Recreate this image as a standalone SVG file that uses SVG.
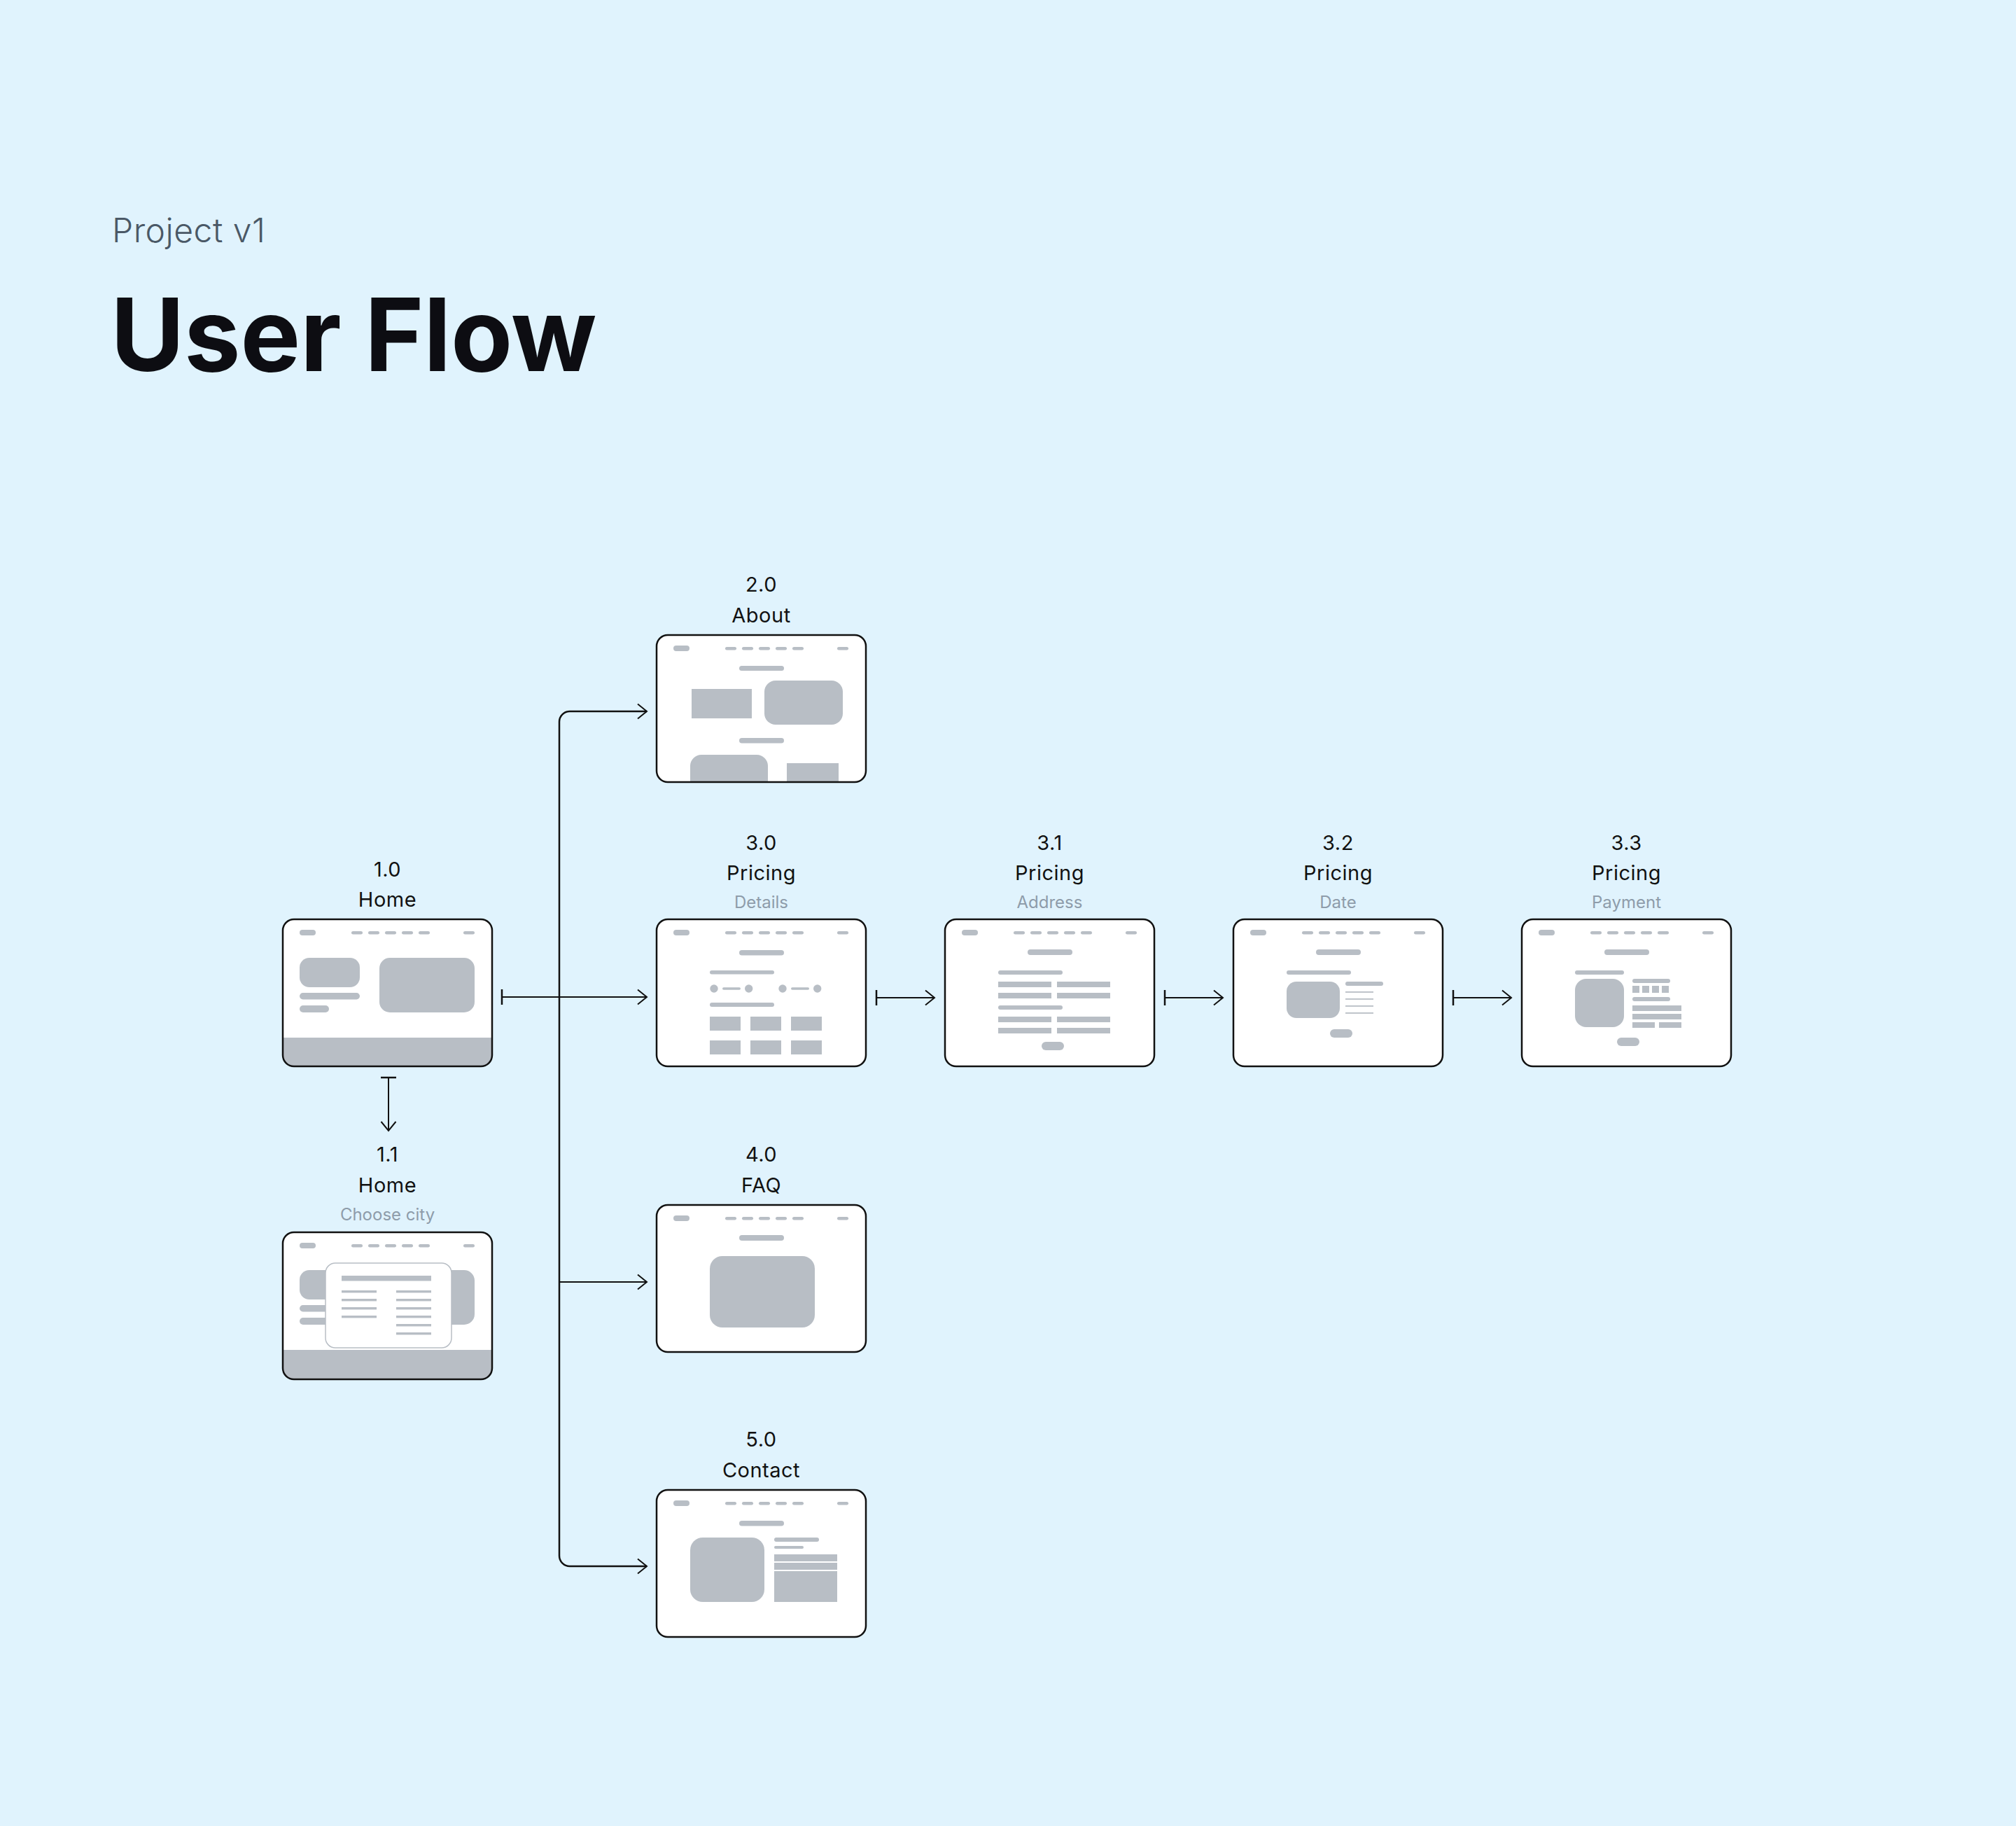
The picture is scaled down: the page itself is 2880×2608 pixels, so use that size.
<svg xmlns="http://www.w3.org/2000/svg" xmlns:xlink="http://www.w3.org/1999/xlink" width="2880" height="2608" viewBox="0 0 2880 2608">
<style>
.g{fill:#b8bec5}
.box{fill:none;stroke:#111;stroke-width:2.5}
.boxbg{fill:#fff}
.lbl{font-family:Inter,"Noto Sans","Liberation Sans",sans-serif;font-size:29px;letter-spacing:0.5px;fill:#111;text-anchor:middle}
.sub{font-family:Inter,"Noto Sans","Liberation Sans",sans-serif;font-size:24px;fill:#8e9caa;text-anchor:middle}
.conn{fill:none;stroke:#111;stroke-width:2}
.trunk{fill:none;stroke:#111;stroke-width:2.5}
</style>
<defs>
<clipPath id="clipBox"><rect x="0" y="0" width="299" height="210" rx="16"/></clipPath>
<g id="hdr">
<rect class="g" x="24" y="15" width="23" height="8" rx="4"/>
<rect class="g" x="98" y="17" width="16" height="4.5" rx="2.25"/>
<rect class="g" x="122" y="17" width="16" height="4.5" rx="2.25"/>
<rect class="g" x="146" y="17" width="16" height="4.5" rx="2.25"/>
<rect class="g" x="170" y="17" width="16" height="4.5" rx="2.25"/>
<rect class="g" x="194" y="17" width="16" height="4.5" rx="2.25"/>
<rect class="g" x="258" y="17" width="16" height="4.5" rx="2.25"/>
</g>
<marker id="arr" markerUnits="userSpaceOnUse" markerWidth="30" markerHeight="30" viewBox="-15 -15 30 30" refX="0" refY="0" orient="auto" overflow="visible"><path d="M-13,-10.5 L0,0 L-13,10.5" fill="none" stroke="#111" stroke-width="2"/></marker>
<marker id="arrS" markerUnits="userSpaceOnUse" markerWidth="30" markerHeight="30" viewBox="-15 -15 30 30" refX="0" refY="0" orient="auto-start-reverse" overflow="visible"><path d="M-13,-10.5 L0,0 L-13,10.5" fill="none" stroke="#111" stroke-width="2"/></marker>
<marker id="tick" markerUnits="userSpaceOnUse" markerWidth="30" markerHeight="30" viewBox="-15 -15 30 30" refX="0" refY="0" orient="auto" overflow="visible"><path d="M0,-11 V11" fill="none" stroke="#111" stroke-width="2.5"/></marker>
</defs>
<rect x="0" y="0" width="2880" height="2608" fill="#e0f3fd"/>
<g id="title">
<text x="160" y="346" font-family="Inter,'Noto Sans','Liberation Sans',sans-serif" font-size="48" font-weight="300" letter-spacing="0.5" fill="#4a5866">Project v1</text>
<text x="158" y="530" font-family="Inter,'Noto Sans','Liberation Sans',sans-serif" font-size="144" font-weight="700" fill="#0d0d12" letter-spacing="-0.3">User Flow</text>
</g>
<g id="connectors">
<path class="trunk" d="M924,1016 H814 A15,15 0 0 0 799,1031 V2222 A15,15 0 0 0 814,2237 H924" marker-start="url(#arrS)" marker-end="url(#arr)"/>
<path class="conn" d="M717,1424 H924" marker-start="url(#tick)" marker-end="url(#arr)"/>
<path class="conn" d="M799,1831 H924" marker-end="url(#arr)"/>
<path class="conn" d="M555,1539 V1615" marker-start="url(#tick)" marker-end="url(#arr)"/>
<path class="conn" d="M1252,1425 H1335" marker-start="url(#tick)" marker-end="url(#arr)"/>
<path class="conn" d="M1664,1425 H1747" marker-start="url(#tick)" marker-end="url(#arr)"/>
<path class="conn" d="M2076,1425 H2159" marker-start="url(#tick)" marker-end="url(#arr)"/>
</g>
<g id="node-1-0">
<text class="lbl" x="553.5" y="1252">1.0</text>
<text class="lbl" x="553.5" y="1295">Home</text>
<g transform="translate(404,1313)">
<rect class="boxbg" x="0" y="0" width="299" height="210" rx="16"/>
<g clip-path="url(#clipBox)">
<use xlink:href="#hdr"/>
<rect class="g" x="24" y="55" width="86" height="42" rx="14"/>
<rect class="g" x="24" y="105" width="86" height="9.5" rx="4.75"/>
<rect class="g" x="24" y="123" width="42" height="10" rx="5"/>
<rect class="g" x="138" y="55" width="136" height="78" rx="15"/>
<rect class="g" x="0" y="169" width="299" height="45"/>
</g>
<rect class="box" x="0" y="0" width="299" height="210" rx="16"/>
</g>
</g>
<g id="node-1-1">
<text class="lbl" x="553.5" y="1659">1.1</text>
<text class="lbl" x="553.5" y="1703">Home</text>
<text class="sub" x="553.5" y="1743">Choose city</text>
<g transform="translate(404,1760)">
<rect class="boxbg" x="0" y="0" width="299" height="210" rx="16"/>
<g clip-path="url(#clipBox)">
<use xlink:href="#hdr"/>
<rect class="g" x="24" y="54" width="86" height="42" rx="14"/>
<rect class="g" x="24" y="104" width="86" height="9.5" rx="4.75"/>
<rect class="g" x="24" y="122" width="42" height="10" rx="5"/>
<rect class="g" x="138" y="54" width="136" height="78" rx="15"/>
<rect class="g" x="0" y="168" width="299" height="45"/>
<rect x="61" y="44" width="180" height="121" rx="14" fill="#fff" stroke="#b8bec5" stroke-width="1.5"/>
<rect class="g" x="84" y="62" width="128" height="7.5"/>
<rect class="g" x="84" y="83" width="50" height="3.4"/>
<rect class="g" x="84" y="95" width="50" height="3.4"/>
<rect class="g" x="84" y="107" width="50" height="3.4"/>
<rect class="g" x="84" y="119" width="50" height="3.4"/>
<rect class="g" x="162" y="83" width="50" height="3.4"/>
<rect class="g" x="162" y="95" width="50" height="3.4"/>
<rect class="g" x="162" y="107" width="50" height="3.4"/>
<rect class="g" x="162" y="119" width="50" height="3.4"/>
<rect class="g" x="162" y="131" width="50" height="3.4"/>
<rect class="g" x="162" y="143" width="50" height="3.4"/>
</g>
<rect class="box" x="0" y="0" width="299" height="210" rx="16"/>
</g>
</g>
<g id="node-2-0">
<text class="lbl" x="1087.5" y="845">2.0</text>
<text class="lbl" x="1087.5" y="889">About</text>
<g transform="translate(938,907)">
<rect class="boxbg" x="0" y="0" width="299" height="210" rx="16"/>
<g clip-path="url(#clipBox)">
<use xlink:href="#hdr"/>
<rect class="g" x="118" y="44" width="64" height="7" rx="3.5"/>
<rect class="g" x="50" y="77" width="86" height="42"/>
<rect class="g" x="154" y="65" width="112" height="63" rx="16"/>
<rect class="g" x="118" y="147" width="64" height="7.5" rx="3.75"/>
<rect class="g" x="48" y="171" width="111" height="60" rx="16"/>
<rect class="g" x="186" y="183" width="74" height="40"/>
</g>
<rect class="box" x="0" y="0" width="299" height="210" rx="16"/>
</g>
</g>
<g id="node-3-0">
<text class="lbl" x="1087.5" y="1214">3.0</text>
<text class="lbl" x="1087.5" y="1257">Pricing</text>
<text class="sub" x="1087.5" y="1297">Details</text>
<g transform="translate(938,1313)">
<rect class="boxbg" x="0" y="0" width="299" height="210" rx="16"/>
<g clip-path="url(#clipBox)">
<use xlink:href="#hdr"/>
<rect class="g" x="118" y="44" width="64" height="7.5" rx="3.75"/>
<rect class="g" x="76" y="73" width="92" height="5.5" rx="2.75"/>
<circle class="g" cx="82" cy="99" r="5.7"/>
<rect class="g" x="94" y="97.3" width="26" height="3.5" rx="1.75"/>
<circle class="g" cx="131.7" cy="99" r="5.7"/>
<circle class="g" cx="180" cy="99" r="5.7"/>
<rect class="g" x="192" y="97.3" width="26" height="3.5" rx="1.75"/>
<circle class="g" cx="229.7" cy="99" r="5.7"/>
<rect class="g" x="76" y="119" width="92" height="6" rx="3"/>
<rect class="g" x="76" y="139" width="44" height="20"/>
<rect class="g" x="134" y="139" width="44" height="20"/>
<rect class="g" x="192" y="139" width="44" height="20"/>
<rect class="g" x="76" y="173" width="44" height="20"/>
<rect class="g" x="134" y="173" width="44" height="20"/>
<rect class="g" x="192" y="173" width="44" height="20"/>
</g>
<rect class="box" x="0" y="0" width="299" height="210" rx="16"/>
</g>
</g>
<g id="node-3-1">
<text class="lbl" x="1499.5" y="1214">3.1</text>
<text class="lbl" x="1499.5" y="1257">Pricing</text>
<text class="sub" x="1499.5" y="1297">Address</text>
<g transform="translate(1350,1313)">
<rect class="boxbg" x="0" y="0" width="299" height="210" rx="16"/>
<g clip-path="url(#clipBox)">
<use xlink:href="#hdr"/>
<rect class="g" x="118" y="43" width="64" height="8" rx="4"/>
<rect class="g" x="76" y="73" width="92" height="6" rx="3"/>
<rect class="g" x="76" y="89" width="76" height="8"/>
<rect class="g" x="160" y="89" width="76" height="8"/>
<rect class="g" x="76" y="105" width="76" height="8"/>
<rect class="g" x="160" y="105" width="76" height="8"/>
<rect class="g" x="76" y="123" width="92" height="6" rx="3"/>
<rect class="g" x="76" y="139" width="76" height="8"/>
<rect class="g" x="160" y="139" width="76" height="8"/>
<rect class="g" x="76" y="155" width="76" height="8"/>
<rect class="g" x="160" y="155" width="76" height="8"/>
<rect class="g" x="138" y="175" width="32" height="12" rx="6"/>
</g>
<rect class="box" x="0" y="0" width="299" height="210" rx="16"/>
</g>
</g>
<g id="node-3-2">
<text class="lbl" x="1911.5" y="1214">3.2</text>
<text class="lbl" x="1911.5" y="1257">Pricing</text>
<text class="sub" x="1911.5" y="1297">Date</text>
<g transform="translate(1762,1313)">
<rect class="boxbg" x="0" y="0" width="299" height="210" rx="16"/>
<g clip-path="url(#clipBox)">
<use xlink:href="#hdr"/>
<rect class="g" x="118" y="43" width="64" height="8" rx="4"/>
<rect class="g" x="76" y="73" width="92" height="6" rx="3"/>
<rect class="g" x="76" y="89" width="76" height="52" rx="14"/>
<rect class="g" x="160" y="89" width="54" height="6" rx="3"/>
<rect class="g" x="160" y="103" width="40" height="1.8"/>
<rect class="g" x="160" y="113" width="40" height="1.8"/>
<rect class="g" x="160" y="123" width="40" height="1.8"/>
<rect class="g" x="160" y="133" width="40" height="1.8"/>
<rect class="g" x="138" y="157" width="32" height="12" rx="6"/>
</g>
<rect class="box" x="0" y="0" width="299" height="210" rx="16"/>
</g>
</g>
<g id="node-3-3">
<text class="lbl" x="2323.5" y="1214">3.3</text>
<text class="lbl" x="2323.5" y="1257">Pricing</text>
<text class="sub" x="2323.5" y="1297">Payment</text>
<g transform="translate(2174,1313)">
<rect class="boxbg" x="0" y="0" width="299" height="210" rx="16"/>
<g clip-path="url(#clipBox)">
<use xlink:href="#hdr"/>
<rect class="g" x="118" y="43" width="64" height="8" rx="4"/>
<rect class="g" x="76" y="73" width="70" height="6" rx="3"/>
<rect class="g" x="76" y="85" width="70" height="69" rx="16"/>
<rect class="g" x="158" y="85" width="54" height="6" rx="3"/>
<rect class="g" x="158" y="95" width="10" height="10"/>
<rect class="g" x="172" y="95" width="10" height="10"/>
<rect class="g" x="186" y="95" width="10" height="10"/>
<rect class="g" x="200" y="95" width="10" height="10"/>
<rect class="g" x="158" y="111" width="54" height="6" rx="3"/>
<rect class="g" x="158" y="123" width="70" height="8"/>
<rect class="g" x="158" y="135" width="70" height="8"/>
<rect class="g" x="158" y="147" width="32" height="8"/>
<rect class="g" x="196" y="147" width="32" height="8"/>
<rect class="g" x="136" y="169" width="32" height="12" rx="6"/>
</g>
<rect class="box" x="0" y="0" width="299" height="210" rx="16"/>
</g>
</g>
<g id="node-4-0">
<text class="lbl" x="1087.5" y="1659">4.0</text>
<text class="lbl" x="1087.5" y="1703">FAQ</text>
<g transform="translate(938,1721)">
<rect class="boxbg" x="0" y="0" width="299" height="210" rx="16"/>
<g clip-path="url(#clipBox)">
<use xlink:href="#hdr"/>
<rect class="g" x="118" y="43" width="64" height="8" rx="4"/>
<rect class="g" x="76" y="73" width="150" height="102" rx="18"/>
</g>
<rect class="box" x="0" y="0" width="299" height="210" rx="16"/>
</g>
</g>
<g id="node-5-0">
<text class="lbl" x="1087.5" y="2066">5.0</text>
<text class="lbl" x="1087.5" y="2110">Contact</text>
<g transform="translate(938,2128)">
<rect class="boxbg" x="0" y="0" width="299" height="210" rx="16"/>
<g clip-path="url(#clipBox)">
<use xlink:href="#hdr"/>
<rect class="g" x="118" y="44" width="64" height="7.5" rx="3.75"/>
<rect class="g" x="48" y="68" width="106" height="92" rx="18"/>
<rect class="g" x="168" y="68" width="64" height="6" rx="3"/>
<rect class="g" x="168" y="80" width="42" height="4" rx="2"/>
<rect class="g" x="168" y="92" width="90" height="10"/>
<rect class="g" x="168" y="104" width="90" height="10"/>
<rect class="g" x="168" y="116" width="90" height="44"/>
</g>
<rect class="box" x="0" y="0" width="299" height="210" rx="16"/>
</g>
</g>
</svg>
